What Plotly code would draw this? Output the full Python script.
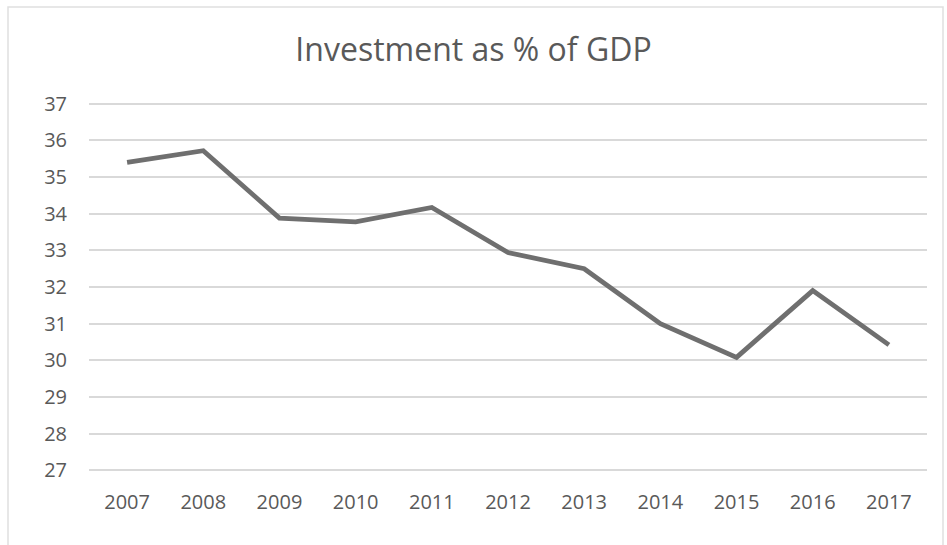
import plotly.graph_objects as go

years = ["2007", "2008", "2009", "2010", "2011", "2012", "2013", "2014", "2015", "2016", "2017"]
investment = [35.4, 35.72, 33.88, 33.78, 34.17, 32.94, 32.5, 31.0, 30.08, 31.9, 30.42]
y_ticks = [27, 28, 29, 30, 31, 32, 33, 34, 35, 36, 37]

fig = go.Figure()
fig.add_trace(go.Scatter(
    x=years, y=investment, mode="lines",
    line=dict(color="#6f6f6f", width=4.8),
    hoverinfo="x+y",
))

W, H = 838, 370
T = 102
fig.update_layout(
    width=947, height=545,
    margin=dict(l=89, r=20, t=T, b=545 - T - H),
    paper_bgcolor="white", plot_bgcolor="white",
    showlegend=False,
    title=dict(text="Investment as % of GDP", x=0.5, xanchor="center",
               y=1 - 50 / 545, yanchor="middle",
               font=dict(family="Open Sans", size=32, color="#595959")),
    font=dict(family="Open Sans", color="#595959", size=20),
    xaxis=dict(type="category", range=[-0.5, 10.5], showgrid=False,
               showline=False, zeroline=False, ticks="", ticklabelstandoff=16,
               tickfont=dict(size=20, color="#595959")),
    yaxis=dict(range=[26.95, 37.05], tickvals=y_ticks, showgrid=True,
               gridcolor="#d9d9d9", gridwidth=1.5, zeroline=False,
               showline=False, ticks="", ticklabelstandoff=21,
               tickfont=dict(size=20, color="#595959")),
    shapes=[dict(type="rect", xref="paper", yref="paper",
                 x0=(8 - 89) / W, x1=1 + (943 - 927) / W,
                 y0=-(560 - (T + H)) / H, y1=1 + (T - 7) / H,
                 line=dict(color="#e0e0e0", width=1.5), fillcolor="rgba(0,0,0,0)",
                 layer="below")],
)

fig.write_html("out.html", config={"displayModeBar": False},
               post_script="document.body.style.margin='0';")
